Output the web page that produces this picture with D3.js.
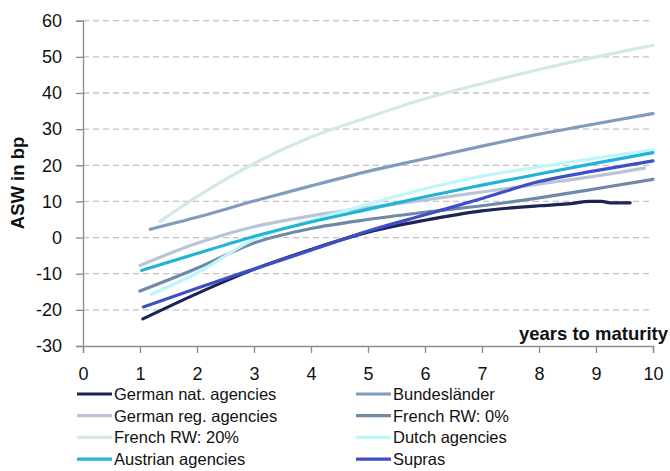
<!DOCTYPE html>
<html><head><meta charset="utf-8">
<script src="https://cdn.jsdelivr.net/npm/d3@7"></script>
<style>
html,body{margin:0;padding:0;background:#fff;}
text{font-family:"Liberation Sans",Arial,sans-serif;fill:#111;}
</style></head>
<body><svg id="c" width="670" height="471"></svg>
<script>
// ---- data ----
const seriesNames = ["German nat. agencies","Bundesländer","German reg. agencies","French RW: 0%","French RW: 20%","Dutch agencies","Austrian agencies","Supras"];
const seriesColors = ["#1b2455","#7f9cbb","#b9c5d7","#7189a8","#d3e9e4","#bdf6fb","#23b4d5","#3f50c6"];
const germanNat = [[1.05,-22.5],[2,-15.5],[3,-8.8],[4,-3.3],[5,1.5],[6,4.8],[7,7.4],[8,8.8],[8.5,9.3],[8.9,10.0],[9.1,10.0],[9.25,9.6],[9.6,9.6]];
const bundeslaender = [[1.18,2.3],[2,5.6],[3,10.1],[4,14.3],[5,18.3],[6,21.8],[7,25.3],[8,28.6],[9,31.5],[10,34.3]];
const germanReg = [[1.0,-7.7],[2,-1.6],[3,3.0],[4,6.0],[5,8.3],[6,10.4],[7,12.6],[8,14.8],[9,17.0],[9.85,19.2]];
const frenchRW0 = [[1.0,-14.8],[2,-8.5],[3,-1.5],[4,2.5],[5,5.0],[6,7.0],[7,8.8],[8,11.0],[9,13.5],[10,16.1]];
const frenchRW20 = [[1.35,4.4],[2,11.3],[3,20.5],[4,27.8],[5,33.3],[6,38.4],[7,42.6],[8,46.5],[9,50.0],[10,53.2]];
const dutch = [[1.2,-15.7],[2,-9.8],[3,-0.5],[4,4.7],[5,9.2],[6,13.5],[7,17.0],[8,19.6],[9,22.0],[10,24.3]];
const austrian = [[1.03,-9.1],[2,-4.4],[3,0.3],[4,4.3],[5,7.8],[6,11.3],[7,14.5],[8,17.6],[9,20.6],[10,23.5]];
const supras = [[1.06,-19.2],[2,-14.0],[3,-8.7],[4,-3.5],[5,1.8],[6,6.3],[7,10.8],[8,15.5],[9,18.5],[10,21.2]];
const xTicks = [0,1,2,3,4,5,6,7,8,9,10];
const yTicks = [-30,-20,-10,0,10,20,30,40,50,60];
const allSeries = [germanNat,bundeslaender,germanReg,frenchRW0,frenchRW20,dutch,austrian,supras];

// ---- chart ----
const svg = d3.select("#c");
const L=83,R=653,T=20.7,B=346;
const x = d3.scaleLinear().domain([0,10]).range([L,R]);
const y = d3.scaleLinear().domain([-30,60]).range([B,T]);

// gridlines
svg.append("g").selectAll("line").data(yTicks.filter(d=>d>-30)).join("line")
  .attr("x1",L).attr("x2",R).attr("y1",d=>y(d)).attr("y2",d=>y(d))
  .attr("stroke","#c4c4c4").attr("stroke-width",1.3).attr("stroke-dasharray","6,4");

// axes
const fmt = d => String(d);
const yAxis = d3.axisLeft(y).tickValues(yTicks).tickSize(7).tickPadding(14).tickFormat(fmt);
const gy = svg.append("g").attr("transform",`translate(${L},0)`).call(yAxis);
const xAxis = d3.axisBottom(x).tickValues(xTicks).tickSize(7).tickPadding(14).tickFormat(fmt);
const gx = svg.append("g").attr("transform",`translate(0,${B})`).call(xAxis);
[gy,gx].forEach(g=>{
  g.select(".domain").attr("stroke","#8c8c8c").attr("stroke-width",1.3);
  g.selectAll(".tick line").attr("stroke","#8c8c8c").attr("stroke-width",1.3);
  g.selectAll(".tick text").attr("font-size",18).attr("font-family","'Liberation Sans',Arial,sans-serif").attr("fill","#111");
});

// lines
const line = d3.line().x(d=>x(d[0])).y(d=>y(d[1])).curve(d3.curveMonotoneX);
svg.append("g").selectAll("path").data(allSeries).join("path")
  .attr("d",line).attr("fill","none")
  .attr("stroke",(d,i)=>seriesColors[i]).attr("stroke-width",3.2)
  .attr("stroke-linecap","round").attr("stroke-linejoin","round");

// titles
svg.append("text").attr("transform","translate(24,183) rotate(-90)")
  .attr("text-anchor","middle").attr("font-weight","bold").attr("font-size",18.5).text("ASW in bp");
svg.append("text").attr("x",668).attr("y",340)
  .attr("text-anchor","end").attr("font-weight","bold").attr("font-size",18.5).text("years to maturity");

// legend
const leg = svg.append("g");
const legItems = seriesNames.map((n,i)=>({n,i,col:i%2,row:Math.floor(i/2)}));
const colX=[77,356], rowY=[394,415.7,437.4,459.1];
const gi = leg.selectAll("g").data(legItems).join("g")
  .attr("transform",d=>`translate(${colX[d.col]},${rowY[d.row]})`);
gi.append("line").attr("x1",0).attr("x2",35).attr("y1",0).attr("y2",0)
  .attr("stroke",d=>seriesColors[d.i]).attr("stroke-width",3.2);
gi.append("text").attr("x",37).attr("y",6).attr("font-size",16.5).text(d=>d.n);
</script></body></html>
